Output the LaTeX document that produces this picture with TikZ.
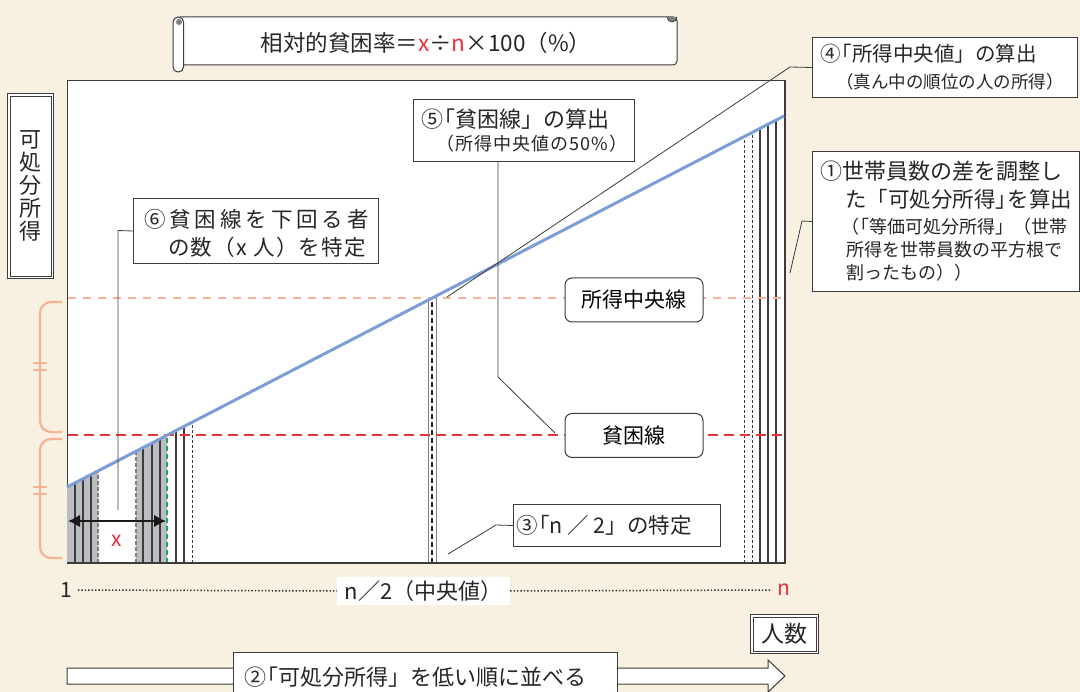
\documentclass[tikz,border=0pt]{standalone}
\usepackage{fontspec}
\setmainfont{Noto Sans CJK JP}
\usetikzlibrary{arrows.meta,calc}
\definecolor{bgc}{HTML}{F8F0E0}
\definecolor{framec}{HTML}{3C3C3C}
\definecolor{salmonc}{HTML}{F7B396}
\definecolor{redc}{HTML}{E8323C}
\definecolor{bluec}{HTML}{7B9ED6}
\definecolor{greenc}{HTML}{1FA85A}
\definecolor{shadec}{HTML}{BCBDC0}
\newcommand\jfs[1]{\fontsize{#1}{#1}\selectfont}
\newcommand\lbk{\makebox[0.55em][r]{「}}
\newcommand\rbk{\makebox[0.55em][l]{」}}
\tikzset{
  sqbox/.style={draw=framec, line width=1pt, fill=white, inner sep=0pt, anchor=north west},
  rbox/.style={draw=framec, line width=1pt, fill=white, rounded corners=7pt, inner sep=0pt, minimum width=138pt, minimum height=44pt, font=\jfs{21}},
  txt/.style={inner sep=0pt, anchor=west, text=black!85},
  conn/.style={draw=framec, line width=0.8pt},
  vline/.style={draw=framec, line width=1.2pt},
  vdash/.style={draw=framec, line width=0.9pt, dash pattern=on 3pt off 2pt},
  brace/.style={draw=salmonc, line width=2.2pt, rounded corners=11pt},
}
\begin{document}
\begin{tikzpicture}[x=1pt,y=-1pt]
\useasboundingbox (0,0) rectangle (1080,692);
\fill[bgc] (0,0) rectangle (1080,692);

% ---------- title scroll ----------
\draw[framec, line width=1pt, fill=white, rounded corners=4pt] (180,17) -- (677,17) -- (677,65) -- (180,65);
\draw[framec, line width=1pt, fill=white, rounded corners=5pt] (173,17) rectangle (183.5,72);
\fill[gray] (179,22) circle (3);
\draw[framec, line width=0.8pt, fill=gray] (667,17) arc (180:0:5);
\node[inner sep=0pt, font=\jfs{22.5}, text=black!85] (title) at (426,43) {相対的貧困率＝\textcolor{redc}{x}÷\textcolor{redc}{n}×100（\%）};

% ---------- plot area ----------
\node[sqbox, minimum width=717pt, minimum height=483pt] (plot) at (67,80) {};
\draw[framec, line width=2pt] (plot.north east) -- (plot.south east);

% shading
\fill[shadec] (67,563) -- (67,487) -- (98,{487-0.5174*31}) -- (98,563) -- cycle;
\fill[shadec] (136,563) -- (136,{487-0.5174*69}) -- (167,{487-0.5174*100}) -- (167,563) -- cycle;

% vertical lines
\foreach \x in {75,83,91,143,152,160,176,184,760,768,776}
  \draw[vline] (\x,563) -- (\x,{487-0.5174*(\x-67)});
\foreach \x in {98,136}
  \draw[draw=gray, line width=1.3pt, dash pattern=on 4pt off 2pt] (\x,563) -- (\x,{487-0.5174*(\x-67)});
\foreach \x in {192,744,752}
  \draw[vdash] (\x,563) -- (\x,{487-0.5174*(\x-67)});
\draw[greenc, line width=2.4pt, dash pattern=on 5pt off 3pt] (167,563) -- (167,{487-0.5174*100});
\foreach \x in {428,436}
  \draw[draw=gray, line width=1pt] (\x,563) -- (\x,{487-0.5174*(\x-67)});
\draw[black!85, line width=2.8pt, dash pattern=on 5pt off 3pt] (432,563) -- (432,{487-0.5174*365});

% dashed lines
\draw[salmonc, line width=2.2pt, dash pattern=on 8pt off 7pt] (68,298) -- (783,298);
\draw[redc, line width=2.8pt, dash pattern=on 10pt off 6pt] (68,435) -- (783,435);

% blue income line
\draw[bluec, line width=3pt] (67,487) -- (784,116);

% bottom axis
\draw[framec, line width=1.3pt] (67,563) -- (784,563);

% x arrow
\coordinate (xa) at (68,521);
\coordinate (xb) at (166,521);
\draw[black!90, line width=2.6pt, {Latex[length=12pt,width=13pt]}-{Latex[length=12pt,width=13pt]}] (xa) -- (xb);
\node[inner sep=0pt, font=\jfs{21}, text=redc] (xl) at (117,541) {x};

% line labels
\node[rbox] (medl) at (634,300) {所得中央線};
\node[rbox] (povl) at (634,435.5) {貧困線};

% ---------- callout boxes ----------
% 4
\node[sqbox, minimum width=265pt, minimum height=60pt] (b4) at (812,37) {};
\node[txt, font=\jfs{20.5}] (b4a) at (820,54) {④\lbk 所得中央値」の算出};
\node[txt, font=\jfs{17.5}] (b4b) at (836,82) {（真ん中の順位の人の所得）};
\coordinate (c4a) at (790,67);
\coordinate (c4b) at (447,297);
\draw[conn] (b4.west) -- (c4a) -- (c4b);

% 5
\node[sqbox, minimum width=221pt, minimum height=62pt] (b5) at (413,99) {};
\node[txt, font=\jfs{22}] (b5a) at (421,119) {⑤\lbk 貧困線」の算出};
\node[txt, font=\jfs{18}\addfontfeature{LetterSpace=6}] (b5b) at (436,144) {（所得中央値の50\%）};
\coordinate (c5a) at (498,377);
\coordinate (c5b) at (555,433);
\draw[conn] (b5.south -| c5a) -- (c5a) -- (c5b);

% 6
\node[sqbox, minimum width=245pt, minimum height=65pt] (b6) at (133,198) {};
\node[txt, font=\jfs{21.5}\addfontfeature{LetterSpace=18}] (b6a) at (144,219) {⑥貧困線を下回る者};
\node[txt, font=\jfs{21.5}\addfontfeature{LetterSpace=6}] (b6b) at (168,247) {の数（x 人）を特定};
\coordinate (c6a) at (118,230.5);
\coordinate (c6b) at (118,510);
\draw[conn] (b6.west) -- (c6a) -- (c6b);

% 1
\node[sqbox, minimum width=267pt, minimum height=140pt] (b1) at (812,151) {};
\node[txt, font=\jfs{22}] (b1a) at (820,171) {①世帯員数の差を調整し};
\node[txt, font=\jfs{21.5}] (b1b) at (845,199) {た「可処分所得\rbk を算出};
\node[txt, font=\jfs{18}] (b1c) at (841,227) {（\lbk 等価可処分所得」（世帯};
\node[txt, font=\jfs{18}] (b1d) at (846,250) {所得を世帯員数の平方根で};
\node[txt, font=\jfs{18}] (b1e) at (846,273) {割ったもの））};
\coordinate (c1a) at (802,221);
\coordinate (c1b) at (790,273);
\draw[conn] (b1.west) -- (c1a) -- (c1b);

% 3
\node[sqbox, minimum width=207pt, minimum height=42pt] (b3) at (513,504) {};
\node[txt, font=\jfs{21.5}] (b3a) at (516,525) {③\lbk n ／ 2」の特定};
\coordinate (c3a) at (496,525);
\coordinate (c3b) at (448,554);
\draw[conn] (b3.west) -- (c3a) -- (c3b);

% ---------- y label ----------
\node[sqbox, minimum width=46pt, minimum height=185pt] (ylab) at (7,93) {};
\draw[framec, line width=0.8pt] ($(ylab.north west)+(3,3)$) rectangle ($(ylab.south east)+(-3,-3)$);
\node[inner sep=0pt, font=\jfs{22}, align=center, text=black!85] (ylabt) at (ylab.center) {可\\[1pt]処\\[1pt]分\\[1pt]所\\[1pt]得};

% braces
\draw[brace] (62,302) -- (40,302) -- (40,432) -- (62,432);
\draw[salmonc, line width=1.6pt] (33,363) -- (47,363) (33,370) -- (47,370);
\draw[brace] (62,439) -- (40,439) -- (40,558) -- (62,558);
\draw[salmonc, line width=1.6pt] (33,487) -- (47,487) (33,494) -- (47,494);

% ---------- x axis labels ----------
\node[inner sep=0pt, font=\jfs{21}, text=black!85] (one) at (66,590) {1};
\node[fill=white, inner sep=0pt, minimum width=173pt, minimum height=28pt, font=\jfs{22}, text=black!85] (half) at (423.5,591) {n／2（中央値）};
\node[inner sep=0pt, font=\jfs{21}, text=redc] (nn) at (784,590) {n};
\draw[black!80, line width=1.5pt, dash pattern=on 1.4pt off 2pt] ($(one.east)+(6,0)$) -- (half.west);
\draw[black!80, line width=1.5pt, dash pattern=on 1.4pt off 2pt] (half.east) -- ($(nn.west)+(-6,0)$);

% 人数
\node[sqbox, minimum width=68pt, minimum height=39pt] (ninzu) at (750,614) {};
\draw[framec, line width=0.8pt] ($(ninzu.north west)+(3,3)$) rectangle ($(ninzu.south east)+(-3,-3)$);
\node[inner sep=0pt, font=\jfs{23}, text=black!85] (ninzut) at (ninzu.center) {人数};

% bottom arrow
\draw[framec, line width=1pt, fill=white] (67,668) -- (768,668) -- (768,660) -- (785,676) -- (768,692) -- (768,684) -- (67,684) -- cycle;
\node[sqbox, minimum width=384pt, minimum height=50pt] (b2) at (233,652) {};
\node[txt, font=\jfs{22}] (b2a) at (244,677) {②\lbk 可処分所得」を低い順に並べる};
\end{tikzpicture}
\end{document}
